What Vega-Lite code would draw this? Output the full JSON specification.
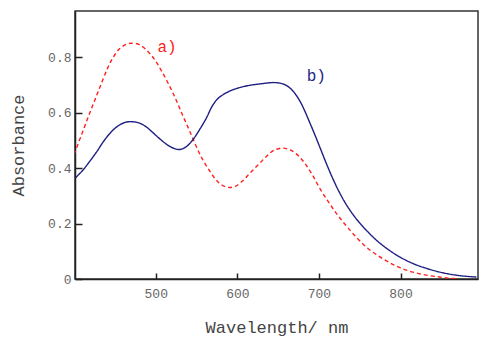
{
  "$schema": "https://vega.github.io/schema/vega-lite/v6.json",
  "width": 403,
  "height": 268,
  "autosize": "none",
  "padding": {"left": 75, "top": 11, "right": 22, "bottom": 65},
  "background": "white",
  "config": {
    "view": {"stroke": "#333", "strokeWidth": 1.5},
    "font": "Liberation Mono",
    "axis": {
      "grid": false,
      "domainColor": "#222",
      "domainWidth": 1.5,
      "tickColor": "#222",
      "tickWidth": 1.5,
      "labelFont": "Liberation Mono",
      "titleFont": "Liberation Mono",
      "labelColor": "#666",
      "titleColor": "#444",
      "labelFontSize": 13,
      "titleFontSize": 17,
      "titleFontWeight": "normal"
    }
  },
  "datasets": {
    "curves": [
      {"wl": 400, "abs": 0.45, "s": "a"},
      {"wl": 409, "abs": 0.52, "s": "a"},
      {"wl": 418, "abs": 0.59, "s": "a"},
      {"wl": 426, "abs": 0.65, "s": "a"},
      {"wl": 434, "abs": 0.71, "s": "a"},
      {"wl": 441, "abs": 0.76, "s": "a"},
      {"wl": 447, "abs": 0.795, "s": "a"},
      {"wl": 455, "abs": 0.828, "s": "a"},
      {"wl": 463, "abs": 0.845, "s": "a"},
      {"wl": 470, "abs": 0.85, "s": "a"},
      {"wl": 480, "abs": 0.845, "s": "a"},
      {"wl": 492, "abs": 0.815, "s": "a"},
      {"wl": 500, "abs": 0.785, "s": "a"},
      {"wl": 508, "abs": 0.745, "s": "a"},
      {"wl": 517, "abs": 0.695, "s": "a"},
      {"wl": 525, "abs": 0.645, "s": "a"},
      {"wl": 533, "abs": 0.59, "s": "a"},
      {"wl": 541, "abs": 0.537, "s": "a"},
      {"wl": 549, "abs": 0.482, "s": "a"},
      {"wl": 557, "abs": 0.433, "s": "a"},
      {"wl": 566, "abs": 0.39, "s": "a"},
      {"wl": 574, "abs": 0.357, "s": "a"},
      {"wl": 582, "abs": 0.337, "s": "a"},
      {"wl": 590, "abs": 0.33, "s": "a"},
      {"wl": 598, "abs": 0.335, "s": "a"},
      {"wl": 607, "abs": 0.355, "s": "a"},
      {"wl": 615, "abs": 0.38, "s": "a"},
      {"wl": 625, "abs": 0.41, "s": "a"},
      {"wl": 635, "abs": 0.44, "s": "a"},
      {"wl": 645, "abs": 0.464, "s": "a"},
      {"wl": 655, "abs": 0.472, "s": "a"},
      {"wl": 664, "abs": 0.466, "s": "a"},
      {"wl": 672, "abs": 0.452, "s": "a"},
      {"wl": 682, "abs": 0.42, "s": "a"},
      {"wl": 692, "abs": 0.375, "s": "a"},
      {"wl": 702, "abs": 0.322, "s": "a"},
      {"wl": 713, "abs": 0.272, "s": "a"},
      {"wl": 723, "abs": 0.23, "s": "a"},
      {"wl": 734, "abs": 0.19, "s": "a"},
      {"wl": 746, "abs": 0.15, "s": "a"},
      {"wl": 758, "abs": 0.115, "s": "a"},
      {"wl": 772, "abs": 0.085, "s": "a"},
      {"wl": 787, "abs": 0.058, "s": "a"},
      {"wl": 800, "abs": 0.04, "s": "a"},
      {"wl": 815, "abs": 0.025, "s": "a"},
      {"wl": 830, "abs": 0.015, "s": "a"},
      {"wl": 848, "abs": 0.007, "s": "a"},
      {"wl": 860, "abs": 0.003, "s": "a"},
      {"wl": 872, "abs": 0.0, "s": "a"},
      {"wl": 400, "abs": 0.36, "s": "b"},
      {"wl": 410, "abs": 0.39, "s": "b"},
      {"wl": 418, "abs": 0.42, "s": "b"},
      {"wl": 427, "abs": 0.456, "s": "b"},
      {"wl": 437, "abs": 0.5, "s": "b"},
      {"wl": 447, "abs": 0.535, "s": "b"},
      {"wl": 455, "abs": 0.554, "s": "b"},
      {"wl": 463, "abs": 0.565, "s": "b"},
      {"wl": 471, "abs": 0.567, "s": "b"},
      {"wl": 480, "abs": 0.562, "s": "b"},
      {"wl": 488, "abs": 0.549, "s": "b"},
      {"wl": 496, "abs": 0.529, "s": "b"},
      {"wl": 505, "abs": 0.505, "s": "b"},
      {"wl": 515, "abs": 0.482, "s": "b"},
      {"wl": 525, "abs": 0.468, "s": "b"},
      {"wl": 530, "abs": 0.467, "s": "b"},
      {"wl": 537, "abs": 0.476, "s": "b"},
      {"wl": 545, "abs": 0.5, "s": "b"},
      {"wl": 553, "abs": 0.535, "s": "b"},
      {"wl": 562, "abs": 0.58, "s": "b"},
      {"wl": 569, "abs": 0.622, "s": "b"},
      {"wl": 576, "abs": 0.65, "s": "b"},
      {"wl": 584, "abs": 0.667, "s": "b"},
      {"wl": 592, "abs": 0.679, "s": "b"},
      {"wl": 603, "abs": 0.69, "s": "b"},
      {"wl": 615, "abs": 0.698, "s": "b"},
      {"wl": 630, "abs": 0.704, "s": "b"},
      {"wl": 643, "abs": 0.708, "s": "b"},
      {"wl": 652, "abs": 0.706, "s": "b"},
      {"wl": 660, "abs": 0.698, "s": "b"},
      {"wl": 668, "abs": 0.678, "s": "b"},
      {"wl": 676, "abs": 0.645, "s": "b"},
      {"wl": 682, "abs": 0.61, "s": "b"},
      {"wl": 688, "abs": 0.569, "s": "b"},
      {"wl": 695, "abs": 0.52, "s": "b"},
      {"wl": 701, "abs": 0.476, "s": "b"},
      {"wl": 709, "abs": 0.417, "s": "b"},
      {"wl": 717, "abs": 0.362, "s": "b"},
      {"wl": 725, "abs": 0.313, "s": "b"},
      {"wl": 734, "abs": 0.266, "s": "b"},
      {"wl": 746, "abs": 0.216, "s": "b"},
      {"wl": 758, "abs": 0.176, "s": "b"},
      {"wl": 772, "abs": 0.136, "s": "b"},
      {"wl": 787, "abs": 0.102, "s": "b"},
      {"wl": 800, "abs": 0.078, "s": "b"},
      {"wl": 815, "abs": 0.056, "s": "b"},
      {"wl": 830, "abs": 0.04, "s": "b"},
      {"wl": 848, "abs": 0.025, "s": "b"},
      {"wl": 870, "abs": 0.013, "s": "b"},
      {"wl": 893, "abs": 0.007, "s": "b"}
    ],
    "labels": [
      {"wl": 502, "abs": 0.836, "s": "a", "t": "a)"},
      {"wl": 685, "abs": 0.73, "s": "b", "t": "b)"}
    ]
  },
  "layer": [
    {
      "data": {"name": "curves"},
      "mark": {"type": "line", "interpolate": "catmull-rom", "strokeWidth": 1.4, "clip": true},
      "encoding": {
        "x": {
          "field": "wl", "type": "quantitative",
          "scale": {"domain": [401, 895], "nice": false, "zero": false},
          "axis": {"values": [500, 600, 700, 800], "title": "Wavelength/ nm", "tickSize": -6, "labelPadding": 14, "titlePadding": 19}
        },
        "y": {
          "field": "abs", "type": "quantitative",
          "scale": {"domain": [0, 0.966], "nice": false},
          "axis": {"values": [0, 0.2, 0.4, 0.6, 0.8], "title": "Absorbance", "tickSize": -7, "labelPadding": 11, "titlePadding": 20,
                   "labelExpr": "datum.value == 0 ? '0' : format(datum.value, '.1f')"}
        },
        "color": {"field": "s", "type": "nominal", "scale": {"domain": ["a", "b"], "range": ["#ff2020", "#1e1e82"]}, "legend": null},
        "strokeDash": {"field": "s", "type": "nominal", "scale": {"domain": ["a", "b"], "range": [[4, 3], [1, 0]]}, "legend": null}
      }
    },
    {
      "data": {"name": "labels"},
      "mark": {"type": "text", "align": "left", "baseline": "middle", "font": "Liberation Mono", "fontSize": 16},
      "encoding": {
        "x": {"field": "wl", "type": "quantitative"},
        "y": {"field": "abs", "type": "quantitative"},
        "text": {"field": "t"},
        "color": {"field": "s", "type": "nominal", "scale": {"domain": ["a", "b"], "range": ["#ff2020", "#1e1e82"]}, "legend": null}
      }
    }
  ]
}
